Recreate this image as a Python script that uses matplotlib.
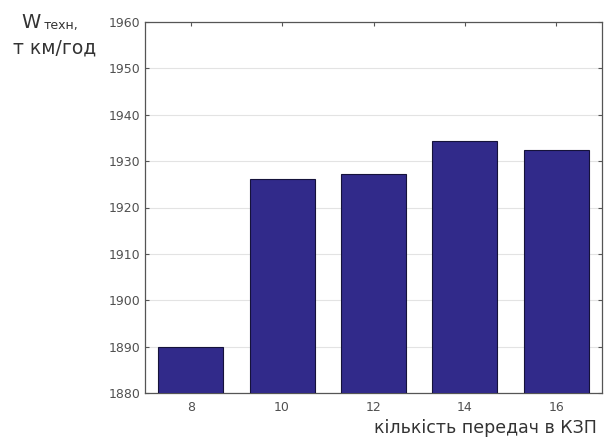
import matplotlib.pyplot as plt
import numpy as np

# кількість передач в КЗП
gears = ['8', '10', '12', '14', '16']
w_tech = [1890.0, 1926.1, 1927.2, 1934.4, 1932.3]

W, H = 605, 441
fig = plt.figure(figsize=(W / 100, H / 100), dpi=100)
ax = fig.add_axes([145 / W, (H - 393) / H, 457 / W, 371 / H])

x = np.arange(len(gears))
ax.bar(x, w_tech, width=0.71, color='#312a8a', edgecolor='#15123a',
       linewidth=0.8, zorder=3)

ax.set_xlim(-0.5, 4.5)
ax.set_ylim(1880, 1960)
ax.set_xticks(x)
ax.set_xticklabels(gears)
ax.set_yticks(np.arange(1880, 1961, 10))

ax.yaxis.grid(True, color='#e3e3e3', linewidth=0.8, zorder=0)
ax.tick_params(direction='in', length=3, width=0.8, colors='#555555',
               labelsize=9, labelcolor='#505050', top=True, right=True)
ax.tick_params(axis='x', pad=6)
for s in ax.spines.values():
    s.set_color('#555555')
    s.set_linewidth(0.9)

tf = ['DejaVu Sans']
fig.text(21 / W, 1 - 22 / H, 'W', fontsize=14, family=tf, color='#333333',
         va='center', ha='left')
fig.text(44 / W, 1 - 25 / H, 'техн,', fontsize=9, family=tf, color='#333333',
         va='center', ha='left')
fig.text(55 / W, 1 - 48 / H, 'т км/год', fontsize=13.5, family=tf,
         color='#333333', va='center', ha='center')
fig.text(597 / W, 1 - 428 / H, 'кількість передач в КЗП', fontsize=12.5,
         family=tf, color='#333333', va='center', ha='right')

fig.savefig('out.png', dpi=100)
